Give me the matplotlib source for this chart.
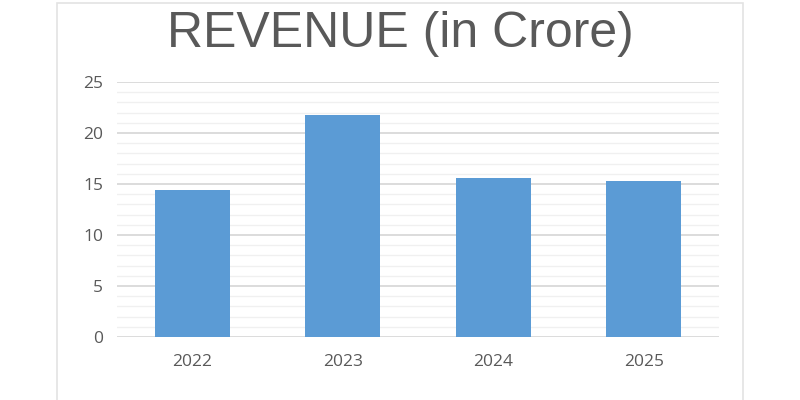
import matplotlib.pyplot as plt
from matplotlib.patches import Rectangle
from matplotlib.ticker import MultipleLocator

# ===== DATA =====
years = ["2022", "2023", "2024", "2025"]
revenue = [14.4, 21.8, 15.6, 15.3]
y_ticks = [0, 5, 10, 15, 20, 25]

# ===== PLOT =====
plt.rcParams['font.family'] = ['Open Sans', 'DejaVu Sans']

fig = plt.figure(figsize=(8, 4), dpi=100)
fig.patch.set_facecolor("white")

# chart frame
fig.patches.append(Rectangle((57 / 800, -0.01), 686 / 800, 1 - 3 / 400 + 0.01,
                             transform=fig.transFigure, fill=False,
                             edgecolor="#e3e3e3", lw=1.2))

ax = fig.add_axes([117 / 800, 63 / 400, 602 / 800, 255 / 400])
ax.bar(years, revenue, width=0.5, color="#5b9bd5", zorder=3)

ax.set_xlim(-0.5, 3.5)
ax.set_ylim(0, 25)
ax.set_yticks(y_ticks)
ax.yaxis.set_minor_locator(MultipleLocator(1))
ax.grid(axis="y", which="major", color="#d9d9d9", lw=1.3, zorder=0)
ax.grid(axis="y", which="minor", color="#f0f0f0", lw=1.0, zorder=0)

for s in ax.spines.values():
    s.set_visible(False)
ax.tick_params(axis="both", which="both", length=0, colors="#595959", labelsize=12.5)
ax.tick_params(axis="y", pad=10)
ax.tick_params(axis="x", pad=12)

fig.text(0.5, 1 - 47 / 400, "REVENUE (in Crore)", ha="center", va="baseline",
         fontsize=36, color="#595959", family=["Liberation Sans", "DejaVu Sans"])

fig.savefig("out.png", dpi=100, facecolor="white")
